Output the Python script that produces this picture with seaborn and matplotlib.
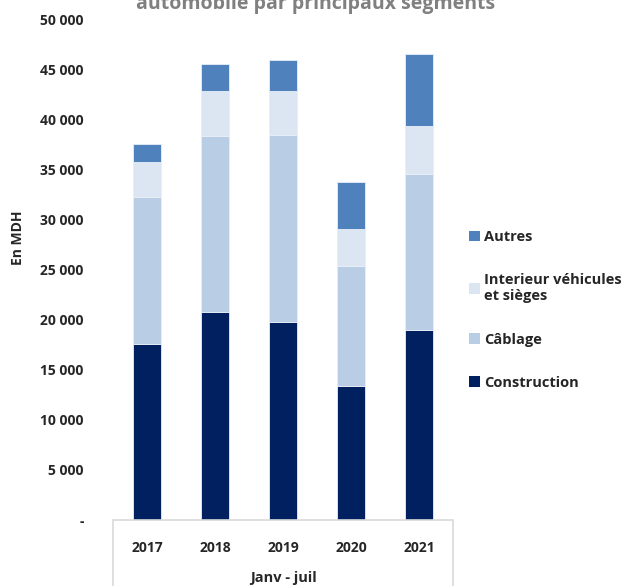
import pandas as pd
import seaborn as sns
import matplotlib.pyplot as plt
from matplotlib.patches import Rectangle, Patch

# Data (MDH, janv - juil)
years = ['2017', '2018', '2019', '2020', '2021']
construction = [17600, 20800, 19800, 13400, 19000]
cablage = [14700, 17600, 18700, 12000, 15600]
interieur = [3500, 4500, 4400, 3700, 4800]
autres = [1800, 2700, 3100, 4700, 7200]

segments = ['Construction', 'Câblage', 'Interieur véhicules\net sièges', 'Autres']
colors = ['#002060', '#b9cde5', '#dce6f2', '#4f81bd']
yticks = [0, 5000, 10000, 15000, 20000, 25000, 30000, 35000, 40000, 45000, 50000]
ytick_labels = ['-', '5 000', '10 000', '15 000', '20 000', '25 000',
                '30 000', '35 000', '40 000', '45 000', '50 000']

df = pd.DataFrame({'year': years, 'Construction': construction, 'Câblage': cablage,
                   'Interieur véhicules\net sièges': interieur, 'Autres': autres})

sns.set_style('white')
plt.rcParams['font.family'] = ['Open Sans', 'DejaVu Sans']
plt.rcParams['font.weight'] = 'bold'

fig = plt.figure(figsize=(6.31, 5.86), dpi=100)
ax = fig.add_axes([0.179, 0.1126, 0.539, 0.854])

bottom = pd.Series([0] * len(years))
for seg, col in zip(segments, colors):
    sns.barplot(data=df, x='year', y=seg, color=col, width=0.4, bottom=bottom,
                saturation=1, edgecolor='#e8eef8', linewidth=0.6, ax=ax)
    bottom = bottom + df[seg]

ax.set_ylim(0, 50000)
ax.set_xlim(-0.5, 4.5)
ax.set_yticks(yticks)
ax.set_yticklabels(ytick_labels, fontsize=10, fontweight='bold')
ax.tick_params(axis='y', length=0, pad=21)
ax.tick_params(axis='x', length=0, pad=15, labelsize=10)
for lbl in ax.get_xticklabels():
    lbl.set_fontweight('bold')
for s in ax.spines.values():
    s.set_visible(False)

ax.set_ylabel('En MDH', fontsize=10, fontweight='bold')
ax.yaxis.set_label_coords(-0.26, 0.565)
ax.set_xlabel('Janv - juil', fontsize=10.5, fontweight='bold')
ax.xaxis.set_label_coords(0.5, -0.102)

# category table box under the axis
ax.add_patch(Rectangle((0, -0.2), 1, 0.2, transform=ax.transAxes, fill=False,
                       edgecolor='#d9d9d9', linewidth=1.2, clip_on=False))

# legend
handles = [Patch(facecolor=c, edgecolor='none') for c in colors[::-1]]
leg = ax.legend(handles, segments[::-1], loc='center left', bbox_to_anchor=(1.03, 0.42),
                frameon=False, fontsize=10.5, labelspacing=2.0, handlelength=0.75,
                handleheight=0.75, handletextpad=0.3, borderaxespad=0)
for t in leg.get_texts():
    t.set_fontweight('bold')

fig.text(0.5, 0.993, 'automobile par principaux segments', ha='center', va='center',
         fontsize=14, fontweight='bold', color='#808080')

fig.savefig('out.png', dpi=100)
